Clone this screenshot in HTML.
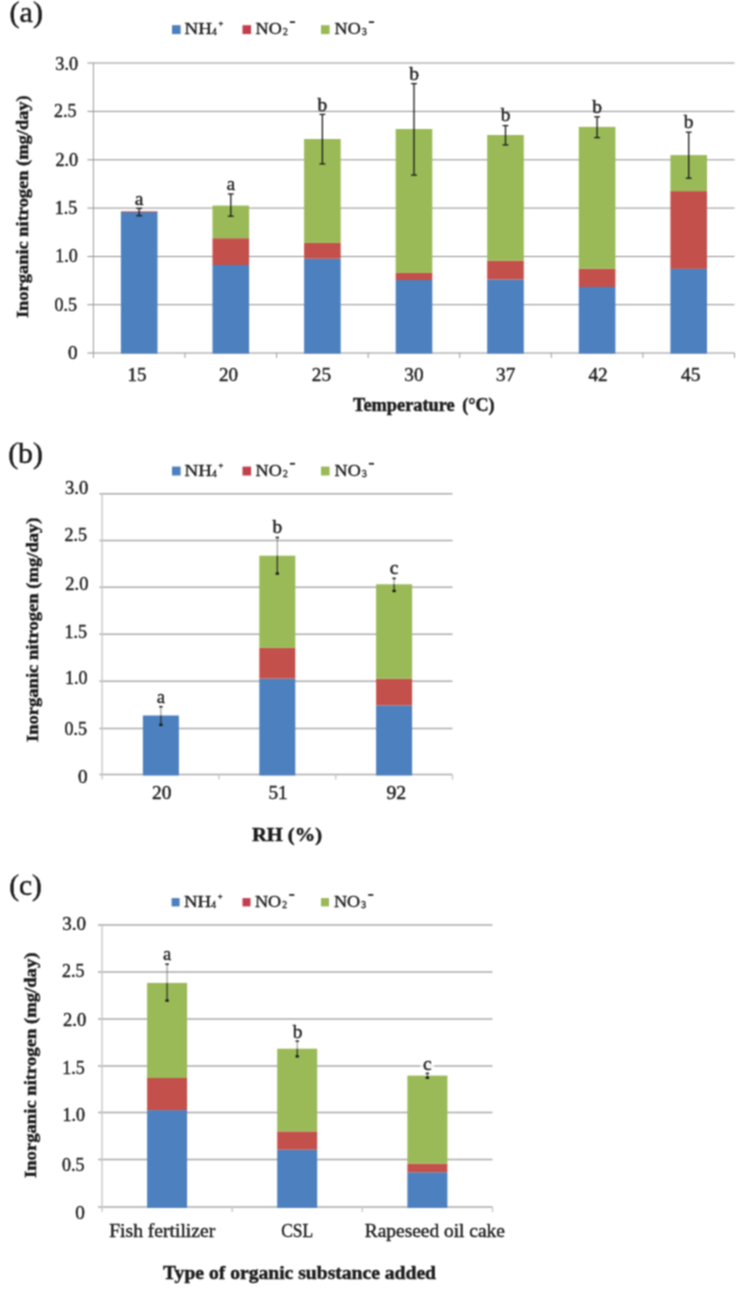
<!DOCTYPE html>
<html><head><meta charset="utf-8"><title>Inorganic nitrogen charts</title>
<style>html,body{margin:0;padding:0;background:#fff;}svg{display:block;font-family:"Liberation Serif",serif;fill:#1c1c1c;}text{stroke:#1c1c1c;stroke-width:0.4px;}text.pl{stroke-width:0.5px;}text[font-weight]{stroke-width:0.45px;}</style></head><body>
<svg width="747" height="1299" viewBox="0 0 747 1299">
<defs><filter id="soft" x="0" y="0" width="747" height="1299" filterUnits="userSpaceOnUse" color-interpolation-filters="sRGB"><feConvolveMatrix order="3" kernelMatrix="1 2 1 2 4 2 1 2 1" divisor="16" edgeMode="duplicate" preserveAlpha="true"/></filter></defs>
<g filter="url(#soft)">
<rect x="0" y="0" width="747" height="1299" fill="#ffffff"/>
<text x="9.6" y="22.1" font-size="30" text-anchor="start" class="pl">(a)</text>
<text x="8.2" y="463.3" font-size="29.8" text-anchor="start" class="pl">(b)</text>
<text x="9.2" y="894.5" font-size="29.5" text-anchor="start" class="pl">(c)</text>
<g id="chartA">
<rect x="172" y="25.2" width="8.6" height="8.9" fill="#4c80be"/>
<text x="184.6" y="34" font-size="17.5" textLength="27.3" lengthAdjust="spacingAndGlyphs">NH</text>
<text x="212.0" y="35.3" font-size="9.5">4</text>
<text x="218.5" y="26.4" font-size="8.5">+</text>
<rect x="242.5" y="25.2" width="8.6" height="8.9" fill="#c23f50"/>
<text x="255.6" y="34" font-size="17.5" textLength="26.2" lengthAdjust="spacingAndGlyphs">NO</text>
<text x="283.0" y="35.3" font-size="9.5">2</text>
<rect x="289.9" y="21.3" width="5.1" height="1.7" fill="#1c1c1c"/>
<rect x="321" y="25.2" width="8.6" height="8.9" fill="#99ba56"/>
<text x="334.6" y="34" font-size="17.5" textLength="26.2" lengthAdjust="spacingAndGlyphs">NO</text>
<text x="362.0" y="35.3" font-size="9.5">3</text>
<rect x="368.9" y="21.3" width="5.1" height="1.7" fill="#1c1c1c"/>
<line x1="87.4" y1="63" x2="734.5" y2="63" stroke="#909090" stroke-width="1.0"/>
<line x1="87.4" y1="111.4" x2="734.5" y2="111.4" stroke="#909090" stroke-width="1.0"/>
<line x1="87.4" y1="159.8" x2="734.5" y2="159.8" stroke="#909090" stroke-width="1.0"/>
<line x1="87.4" y1="208.1" x2="734.5" y2="208.1" stroke="#909090" stroke-width="1.0"/>
<line x1="87.4" y1="256.5" x2="734.5" y2="256.5" stroke="#909090" stroke-width="1.0"/>
<line x1="87.4" y1="304.7" x2="734.5" y2="304.7" stroke="#909090" stroke-width="1.0"/>
<line x1="87.4" y1="353" x2="734.5" y2="353" stroke="#909090" stroke-width="1.0"/>
<line x1="93.4" y1="63" x2="93.4" y2="358" stroke="#9c9c9c" stroke-width="1.0"/>
<line x1="185.0" y1="353" x2="185.0" y2="358" stroke="#9c9c9c" stroke-width="1.0"/>
<line x1="276.6" y1="353" x2="276.6" y2="358" stroke="#9c9c9c" stroke-width="1.0"/>
<line x1="368.2" y1="353" x2="368.2" y2="358" stroke="#9c9c9c" stroke-width="1.0"/>
<line x1="459.7" y1="353" x2="459.7" y2="358" stroke="#9c9c9c" stroke-width="1.0"/>
<line x1="551.3" y1="353" x2="551.3" y2="358" stroke="#9c9c9c" stroke-width="1.0"/>
<line x1="642.9" y1="353" x2="642.9" y2="358" stroke="#9c9c9c" stroke-width="1.0"/>
<line x1="734.5" y1="353" x2="734.5" y2="358" stroke="#9c9c9c" stroke-width="1.0"/>
<rect x="120.9" y="211.8" width="36.6" height="141.8" fill="#4c80be"/>
<rect x="120.9" y="211.3" width="36.6" height="1" fill="#c4504b" opacity="0.8"/>
<rect x="212.5" y="265" width="36.6" height="88.6" fill="#4c80be"/>
<rect x="212.5" y="238.2" width="36.6" height="26.8" fill="#c4504b"/>
<rect x="212.5" y="205.6" width="36.6" height="32.6" fill="#99ba56"/>
<rect x="304.1" y="258.7" width="36.6" height="94.9" fill="#4c80be"/>
<rect x="304.1" y="242.9" width="36.6" height="15.8" fill="#c4504b"/>
<rect x="304.1" y="139" width="36.6" height="103.9" fill="#99ba56"/>
<rect x="395.7" y="280" width="36.6" height="73.6" fill="#4c80be"/>
<rect x="395.7" y="272.9" width="36.6" height="7.1" fill="#c4504b"/>
<rect x="395.7" y="129" width="36.6" height="143.9" fill="#99ba56"/>
<rect x="487.2" y="279.5" width="36.6" height="74.1" fill="#4c80be"/>
<rect x="487.2" y="260.8" width="36.6" height="18.7" fill="#c4504b"/>
<rect x="487.2" y="135" width="36.6" height="125.8" fill="#99ba56"/>
<rect x="578.8" y="287" width="36.6" height="66.6" fill="#4c80be"/>
<rect x="578.8" y="268.8" width="36.6" height="18.2" fill="#c4504b"/>
<rect x="578.8" y="126.9" width="36.6" height="141.9" fill="#99ba56"/>
<rect x="670.4" y="268.9" width="36.6" height="84.7" fill="#4c80be"/>
<rect x="670.4" y="191.1" width="36.6" height="77.8" fill="#c4504b"/>
<rect x="670.4" y="155.1" width="36.6" height="36.0" fill="#99ba56"/>
<line x1="139.2" y1="208.4" x2="139.2" y2="211.8" stroke="#1a1a1a" stroke-width="1.3"/>
<line x1="139.2" y1="211.8" x2="139.2" y2="215.7" stroke="#1a1a1a" stroke-width="1.3"/>
<line x1="136.3" y1="208.4" x2="142.1" y2="208.4" stroke="#1a1a1a" stroke-width="1.3"/>
<line x1="136.3" y1="215.7" x2="142.1" y2="215.7" stroke="#1a1a1a" stroke-width="1.3"/>
<text x="139.2" y="204.6" font-size="19.5" text-anchor="middle">a</text>
<line x1="230.8" y1="194" x2="230.8" y2="205.6" stroke="#1a1a1a" stroke-width="1.3"/>
<line x1="230.8" y1="205.6" x2="230.8" y2="216.2" stroke="#1a1a1a" stroke-width="1.3"/>
<line x1="227.9" y1="194" x2="233.7" y2="194" stroke="#1a1a1a" stroke-width="1.3"/>
<line x1="227.9" y1="216.2" x2="233.7" y2="216.2" stroke="#1a1a1a" stroke-width="1.3"/>
<text x="230.8" y="189.6" font-size="19.5" text-anchor="middle">a</text>
<line x1="322.4" y1="114.4" x2="322.4" y2="139" stroke="#1a1a1a" stroke-width="1.3"/>
<line x1="322.4" y1="139" x2="322.4" y2="163.9" stroke="#1a1a1a" stroke-width="1.3"/>
<line x1="319.5" y1="114.4" x2="325.3" y2="114.4" stroke="#1a1a1a" stroke-width="1.3"/>
<line x1="319.5" y1="163.9" x2="325.3" y2="163.9" stroke="#1a1a1a" stroke-width="1.3"/>
<text x="322.4" y="110.6" font-size="19.5" text-anchor="middle">b</text>
<line x1="414.0" y1="83.6" x2="414.0" y2="129" stroke="#1a1a1a" stroke-width="1.3"/>
<line x1="414.0" y1="129" x2="414.0" y2="175.1" stroke="#1a1a1a" stroke-width="1.3"/>
<line x1="411.1" y1="83.6" x2="416.9" y2="83.6" stroke="#1a1a1a" stroke-width="1.3"/>
<line x1="411.1" y1="175.1" x2="416.9" y2="175.1" stroke="#1a1a1a" stroke-width="1.3"/>
<text x="414.0" y="80" font-size="19.5" text-anchor="middle">b</text>
<line x1="505.5" y1="125.6" x2="505.5" y2="135" stroke="#1a1a1a" stroke-width="1.3"/>
<line x1="505.5" y1="135" x2="505.5" y2="144.9" stroke="#1a1a1a" stroke-width="1.3"/>
<line x1="502.6" y1="125.6" x2="508.4" y2="125.6" stroke="#1a1a1a" stroke-width="1.3"/>
<line x1="502.6" y1="144.9" x2="508.4" y2="144.9" stroke="#1a1a1a" stroke-width="1.3"/>
<text x="505.5" y="121.3" font-size="19.5" text-anchor="middle">b</text>
<line x1="597.1" y1="116.8" x2="597.1" y2="126.9" stroke="#1a1a1a" stroke-width="1.3"/>
<line x1="597.1" y1="126.9" x2="597.1" y2="137.6" stroke="#1a1a1a" stroke-width="1.3"/>
<line x1="594.2" y1="116.8" x2="600.0" y2="116.8" stroke="#1a1a1a" stroke-width="1.3"/>
<line x1="594.2" y1="137.6" x2="600.0" y2="137.6" stroke="#1a1a1a" stroke-width="1.3"/>
<text x="597.1" y="113" font-size="19.5" text-anchor="middle">b</text>
<line x1="688.7" y1="132.2" x2="688.7" y2="155.1" stroke="#1a1a1a" stroke-width="1.3"/>
<line x1="688.7" y1="155.1" x2="688.7" y2="178.2" stroke="#1a1a1a" stroke-width="1.3"/>
<line x1="685.8" y1="132.2" x2="691.6" y2="132.2" stroke="#1a1a1a" stroke-width="1.3"/>
<line x1="685.8" y1="178.2" x2="691.6" y2="178.2" stroke="#1a1a1a" stroke-width="1.3"/>
<text x="688.7" y="128.4" font-size="19.5" text-anchor="middle">b</text>
<text x="78.1" y="69.7" font-size="18" text-anchor="end" textLength="22.8" lengthAdjust="spacingAndGlyphs">3.0</text>
<text x="76.6" y="117.4" font-size="18" text-anchor="end">2.5</text>
<text x="78.2" y="166.3" font-size="18" text-anchor="end" textLength="22.8" lengthAdjust="spacingAndGlyphs">2.0</text>
<text x="77.2" y="214" font-size="18" text-anchor="end">1.5</text>
<text x="77.7" y="261.9" font-size="18" text-anchor="end">1.0</text>
<text x="77.1" y="310.8" font-size="18" text-anchor="end">0.5</text>
<text x="77.7" y="358.5" font-size="18" text-anchor="end" textLength="9.6" lengthAdjust="spacingAndGlyphs">0</text>
<text x="136.9" y="380.8" font-size="18" text-anchor="middle" textLength="19" lengthAdjust="spacingAndGlyphs">15</text>
<text x="228.6" y="380.8" font-size="18" text-anchor="middle" textLength="19" lengthAdjust="spacingAndGlyphs">20</text>
<text x="321.4" y="380.8" font-size="18" text-anchor="middle" textLength="19.2" lengthAdjust="spacingAndGlyphs">25</text>
<text x="413.9" y="380.8" font-size="18" text-anchor="middle" textLength="19.2" lengthAdjust="spacingAndGlyphs">30</text>
<text x="505.7" y="380.8" font-size="18" text-anchor="middle" textLength="19.2" lengthAdjust="spacingAndGlyphs">37</text>
<text x="598.0" y="380.8" font-size="18" text-anchor="middle" textLength="19.2" lengthAdjust="spacingAndGlyphs">42</text>
<text x="690.7" y="380.8" font-size="18" text-anchor="middle" textLength="19.5" lengthAdjust="spacingAndGlyphs">45</text>
<text transform="translate(28.3,206.7) rotate(-90)" font-size="17.3" text-anchor="middle" font-weight="bold" textLength="222.8" lengthAdjust="spacingAndGlyphs">Inorganic nitrogen (mg/day)</text>
<text x="352.9" y="411.3" font-size="18" text-anchor="start" font-weight="bold" textLength="101.8" lengthAdjust="spacingAndGlyphs">Temperature</text>
<text x="462.2" y="411.3" font-size="18" text-anchor="start" font-weight="bold" textLength="32.3" lengthAdjust="spacingAndGlyphs">(°C)</text>
</g>
<g id="chartB">
<rect x="172" y="466.6" width="8.6" height="8.9" fill="#4c80be"/>
<text x="184.6" y="475.6" font-size="17.5" textLength="27.3" lengthAdjust="spacingAndGlyphs">NH</text>
<text x="212.0" y="476.9" font-size="9.5">4</text>
<text x="218.5" y="468.0" font-size="8.5">+</text>
<rect x="242.5" y="466.6" width="8.6" height="8.9" fill="#c23f50"/>
<text x="255.6" y="475.6" font-size="17.5" textLength="26.2" lengthAdjust="spacingAndGlyphs">NO</text>
<text x="283.0" y="476.9" font-size="9.5">2</text>
<rect x="289.9" y="462.9" width="5.1" height="1.7" fill="#1c1c1c"/>
<rect x="321" y="466.6" width="8.6" height="8.9" fill="#99ba56"/>
<text x="334.6" y="475.6" font-size="17.5" textLength="26.2" lengthAdjust="spacingAndGlyphs">NO</text>
<text x="362.0" y="476.9" font-size="9.5">3</text>
<rect x="368.9" y="462.9" width="5.1" height="1.7" fill="#1c1c1c"/>
<line x1="99.39999999999999" y1="493.8" x2="452.5" y2="493.8" stroke="#acacac" stroke-width="1.5"/>
<line x1="99.39999999999999" y1="540.6" x2="452.5" y2="540.6" stroke="#acacac" stroke-width="1.5"/>
<line x1="99.39999999999999" y1="587.3" x2="452.5" y2="587.3" stroke="#acacac" stroke-width="1.5"/>
<line x1="99.39999999999999" y1="634.2" x2="452.5" y2="634.2" stroke="#acacac" stroke-width="1.5"/>
<line x1="99.39999999999999" y1="681.2" x2="452.5" y2="681.2" stroke="#acacac" stroke-width="1.5"/>
<line x1="99.39999999999999" y1="728.4" x2="452.5" y2="728.4" stroke="#acacac" stroke-width="1.5"/>
<line x1="99.39999999999999" y1="774.6" x2="452.5" y2="774.6" stroke="#acacac" stroke-width="1.5"/>
<line x1="102.1" y1="493.8" x2="102.1" y2="779.6" stroke="#c8c8c8" stroke-width="1.4"/>
<line x1="218.9" y1="774.6" x2="218.9" y2="779.6" stroke="#c8c8c8" stroke-width="1.4"/>
<line x1="335.7" y1="774.6" x2="335.7" y2="779.6" stroke="#c8c8c8" stroke-width="1.4"/>
<line x1="452.5" y1="774.6" x2="452.5" y2="779.6" stroke="#c8c8c8" stroke-width="1.4"/>
<rect x="142.9" y="715.5" width="36" height="60.0" fill="#4c80be"/>
<rect x="259.3" y="678.6" width="36" height="96.9" fill="#4c80be"/>
<rect x="259.3" y="647.8" width="36" height="30.8" fill="#c4504b"/>
<rect x="259.3" y="555.7" width="36" height="92.1" fill="#99ba56"/>
<rect x="376.1" y="705.4" width="36" height="70.1" fill="#4c80be"/>
<rect x="376.1" y="678.8" width="36" height="26.6" fill="#c4504b"/>
<rect x="376.1" y="584.3" width="36" height="94.5" fill="#99ba56"/>
<line x1="160.9" y1="706.7" x2="160.9" y2="715.5" stroke="#6a6a6a" stroke-width="0.8"/>
<line x1="160.9" y1="715.5" x2="160.9" y2="724.9" stroke="#222222" stroke-width="1.1"/>
<line x1="159.2" y1="706.7" x2="162.6" y2="706.7" stroke="#1a1a1a" stroke-width="1.5"/>
<line x1="159.2" y1="724.9" x2="162.6" y2="724.9" stroke="#1a1a1a" stroke-width="2.3"/>
<text x="160.9" y="703.4" font-size="18.5" text-anchor="middle">a</text>
<line x1="277.3" y1="537.5" x2="277.3" y2="555.7" stroke="#6a6a6a" stroke-width="0.8"/>
<line x1="277.3" y1="555.7" x2="277.3" y2="573.6" stroke="#222222" stroke-width="1.1"/>
<line x1="275.6" y1="537.5" x2="279.0" y2="537.5" stroke="#1a1a1a" stroke-width="1.5"/>
<line x1="275.6" y1="573.6" x2="279.0" y2="573.6" stroke="#1a1a1a" stroke-width="2.3"/>
<text x="277.3" y="532.8" font-size="19.5" text-anchor="middle">b</text>
<line x1="394.1" y1="578.4" x2="394.1" y2="584.3" stroke="#6a6a6a" stroke-width="0.8"/>
<line x1="394.1" y1="584.3" x2="394.1" y2="591" stroke="#222222" stroke-width="1.1"/>
<line x1="392.4" y1="578.4" x2="395.8" y2="578.4" stroke="#1a1a1a" stroke-width="1.5"/>
<line x1="392.4" y1="591" x2="395.8" y2="591" stroke="#1a1a1a" stroke-width="2.3"/>
<text x="394.1" y="573.8" font-size="19.5" text-anchor="middle">c</text>
<text x="88.3" y="493.9" font-size="18" text-anchor="end" textLength="23.3" lengthAdjust="spacingAndGlyphs">3.0</text>
<text x="87.1" y="540.5" font-size="18" text-anchor="end">2.5</text>
<text x="88.4" y="589.5" font-size="18" text-anchor="end" textLength="23.1" lengthAdjust="spacingAndGlyphs">2.0</text>
<text x="87.1" y="637.6" font-size="18" text-anchor="end">1.5</text>
<text x="87.6" y="684.4" font-size="18" text-anchor="end">1.0</text>
<text x="87.1" y="734.6" font-size="18" text-anchor="end">0.5</text>
<text x="87.7" y="782.9" font-size="18" text-anchor="end" textLength="9.6" lengthAdjust="spacingAndGlyphs">0</text>
<text x="161.7" y="799" font-size="18" text-anchor="middle" textLength="19.4" lengthAdjust="spacingAndGlyphs">20</text>
<text x="278.0" y="799" font-size="18" text-anchor="middle" textLength="19.2" lengthAdjust="spacingAndGlyphs">51</text>
<text x="396.3" y="799" font-size="18" text-anchor="middle" textLength="19.8" lengthAdjust="spacingAndGlyphs">92</text>
<text transform="translate(38.1,629.8) rotate(-90)" font-size="17.3" text-anchor="middle" font-weight="bold" textLength="224.5" lengthAdjust="spacingAndGlyphs">Inorganic nitrogen (mg/day)</text>
<text x="287" y="841.3" font-size="18" text-anchor="middle" font-weight="bold" textLength="70" lengthAdjust="spacingAndGlyphs">RH (%)</text>
</g>
<g id="chartC">
<rect x="171.6" y="898.1" width="8.0" height="8.3" fill="#4c80be"/>
<text x="183.9" y="906.8" font-size="17.5" textLength="27.3" lengthAdjust="spacingAndGlyphs">NH</text>
<text x="211.3" y="908.1" font-size="9.5">4</text>
<text x="217.8" y="899.2" font-size="8.5">+</text>
<rect x="242.5" y="898.1" width="8.0" height="8.3" fill="#c23f50"/>
<text x="254.9" y="906.8" font-size="17.5" textLength="26.2" lengthAdjust="spacingAndGlyphs">NO</text>
<text x="282.3" y="908.1" font-size="9.5">2</text>
<rect x="289.2" y="894.1" width="5.1" height="1.7" fill="#1c1c1c"/>
<rect x="321" y="898.1" width="8.0" height="8.3" fill="#99ba56"/>
<text x="333.9" y="906.8" font-size="17.5" textLength="26.2" lengthAdjust="spacingAndGlyphs">NO</text>
<text x="361.3" y="908.1" font-size="9.5">3</text>
<rect x="368.2" y="894.1" width="5.1" height="1.7" fill="#1c1c1c"/>
<line x1="98" y1="925" x2="492.5" y2="925" stroke="#aaaaaa" stroke-width="1.5"/>
<line x1="98" y1="972" x2="492.5" y2="972" stroke="#aaaaaa" stroke-width="1.5"/>
<line x1="98" y1="1018.9" x2="492.5" y2="1018.9" stroke="#aaaaaa" stroke-width="1.5"/>
<line x1="98" y1="1065.9" x2="492.5" y2="1065.9" stroke="#aaaaaa" stroke-width="1.5"/>
<line x1="98" y1="1112.6" x2="492.5" y2="1112.6" stroke="#aaaaaa" stroke-width="1.5"/>
<line x1="98" y1="1159.5" x2="492.5" y2="1159.5" stroke="#aaaaaa" stroke-width="1.5"/>
<line x1="98" y1="1207.1" x2="492.5" y2="1207.1" stroke="#aaaaaa" stroke-width="1.5"/>
<line x1="102" y1="925" x2="102" y2="1212.1" stroke="#c8c8c8" stroke-width="1.4"/>
<line x1="232.2" y1="1207.1" x2="232.2" y2="1212.1" stroke="#c8c8c8" stroke-width="1.4"/>
<line x1="362.3" y1="1207.1" x2="362.3" y2="1212.1" stroke="#c8c8c8" stroke-width="1.4"/>
<line x1="492.5" y1="1207.1" x2="492.5" y2="1212.1" stroke="#c8c8c8" stroke-width="1.4"/>
<rect x="147.1" y="1110.1" width="40" height="97.8" fill="#4c80be"/>
<rect x="147.1" y="1078" width="40" height="32.1" fill="#c4504b"/>
<rect x="147.1" y="982.9" width="40" height="95.1" fill="#99ba56"/>
<rect x="277.2" y="1149.7" width="40" height="58.2" fill="#4c80be"/>
<rect x="277.2" y="1131.4" width="40" height="18.3" fill="#c4504b"/>
<rect x="277.2" y="1048.7" width="40" height="82.7" fill="#99ba56"/>
<rect x="407.4" y="1172.3" width="40" height="35.6" fill="#4c80be"/>
<rect x="407.4" y="1163.6" width="40" height="8.7" fill="#c4504b"/>
<rect x="407.4" y="1075.6" width="40" height="88.0" fill="#99ba56"/>
<line x1="167.1" y1="964.2" x2="167.1" y2="982.9" stroke="#6a6a6a" stroke-width="0.8"/>
<line x1="167.1" y1="982.9" x2="167.1" y2="1000.6" stroke="#222222" stroke-width="1.1"/>
<line x1="165.4" y1="964.2" x2="168.8" y2="964.2" stroke="#1a1a1a" stroke-width="1.5"/>
<line x1="165.4" y1="1000.6" x2="168.8" y2="1000.6" stroke="#1a1a1a" stroke-width="2.3"/>
<text x="167.1" y="960.1" font-size="18.5" text-anchor="middle">a</text>
<line x1="297.2" y1="1041.1" x2="297.2" y2="1048.7" stroke="#6a6a6a" stroke-width="0.8"/>
<line x1="297.2" y1="1048.7" x2="297.2" y2="1056.4" stroke="#222222" stroke-width="1.1"/>
<line x1="295.6" y1="1041.1" x2="298.9" y2="1041.1" stroke="#1a1a1a" stroke-width="1.5"/>
<line x1="295.6" y1="1056.4" x2="298.9" y2="1056.4" stroke="#1a1a1a" stroke-width="2.3"/>
<text x="297.6" y="1038.3" font-size="19.5" text-anchor="middle">b</text>
<line x1="427.4" y1="1073.4" x2="427.4" y2="1075.6" stroke="#6a6a6a" stroke-width="0.8"/>
<line x1="427.4" y1="1075.6" x2="427.4" y2="1077.8" stroke="#222222" stroke-width="1.1"/>
<line x1="425.7" y1="1073.4" x2="429.1" y2="1073.4" stroke="#1a1a1a" stroke-width="1.5"/>
<line x1="425.7" y1="1077.8" x2="429.1" y2="1077.8" stroke="#1a1a1a" stroke-width="2.3"/>
<rect x="420.4" y="1060.2" width="14" height="10" fill="#ffffff" opacity="0.75"/>
<text x="427.4" y="1069.7" font-size="19.5" text-anchor="middle">c</text>
<text x="86.0" y="929.8" font-size="18" text-anchor="end" textLength="23.8" lengthAdjust="spacingAndGlyphs">3.0</text>
<text x="84.5" y="976.9" font-size="18" text-anchor="end">2.5</text>
<text x="86.2" y="1025.5" font-size="18" text-anchor="end" textLength="23.2" lengthAdjust="spacingAndGlyphs">2.0</text>
<text x="84.8" y="1074.3" font-size="18" text-anchor="end">1.5</text>
<text x="85.1" y="1121.4" font-size="18" text-anchor="end">1.0</text>
<text x="84.5" y="1170.9" font-size="18" text-anchor="end">0.5</text>
<text x="84.9" y="1219.2" font-size="18" text-anchor="end" textLength="9.6" lengthAdjust="spacingAndGlyphs">0</text>
<text x="162.2" y="1237" font-size="18.5" text-anchor="middle" textLength="106" lengthAdjust="spacingAndGlyphs">Fish fertilizer</text>
<text x="297.2" y="1237" font-size="18.5" text-anchor="middle" textLength="32" lengthAdjust="spacingAndGlyphs">CSL</text>
<text x="434.8" y="1237" font-size="18.5" text-anchor="middle" textLength="140" lengthAdjust="spacingAndGlyphs">Rapeseed oil cake</text>
<text transform="translate(36,1065.3) rotate(-90)" font-size="17.3" text-anchor="middle" font-weight="bold" textLength="225.5" lengthAdjust="spacingAndGlyphs">Inorganic nitrogen (mg/day)</text>
<text x="299.5" y="1278.6" font-size="18.5" text-anchor="middle" font-weight="bold" textLength="273" lengthAdjust="spacingAndGlyphs">Type of organic substance added</text>
</g>
</g></svg></body></html>
